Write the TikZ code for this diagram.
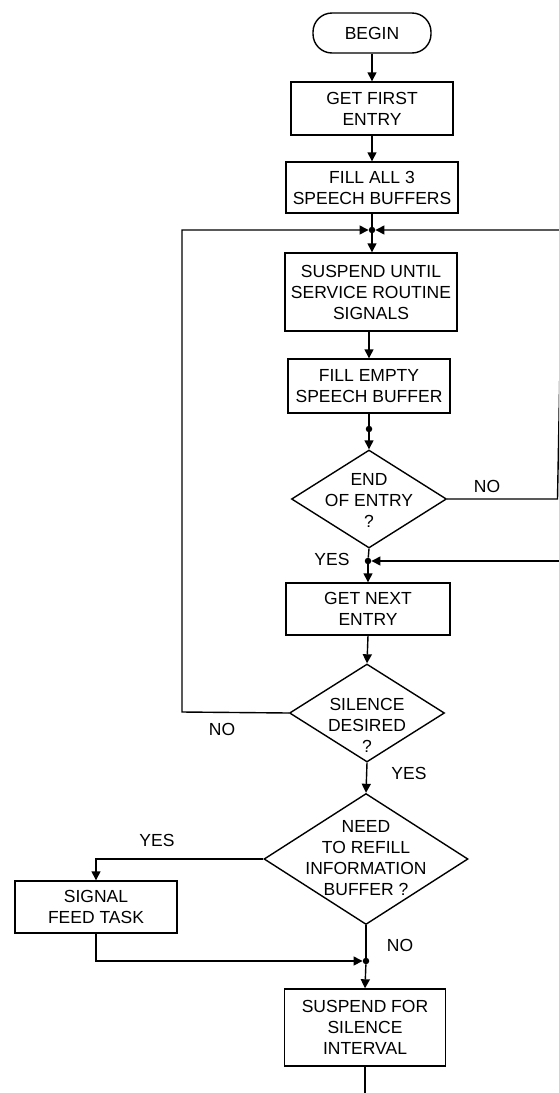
\documentclass[tikz,border=0pt]{standalone}
\usepackage{fontspec}
\setmainfont{Liberation Sans}
\usetikzlibrary{arrows.meta,shapes.geometric}
\begin{document}
\begin{tikzpicture}[x=1pt,y=-1pt,
  every node/.style={font=\fontsize{17.5}{21}\selectfont},
  box/.style={draw, line width=1.4pt, rectangle, align=center, inner sep=0pt},
  term/.style={draw, line width=1.4pt, rectangle, rounded corners=19pt, align=center, inner sep=0pt},
  dia/.style={draw, diamond, line width=1.4pt, inner sep=0pt},
  dtext/.style={align=center, inner sep=0pt},
  flow/.style={line width=1.4pt, -{Triangle[length=9pt,width=9pt]}},
  link/.style={line width=1.4pt},
  lbl/.style={inner sep=0pt},
  dot/.style={circle, fill, inner sep=0pt, minimum size=6.5pt}]
\fill[white] (0,0) rectangle (559,1093);
\path[use as bounding box] (0,0) rectangle (559,1093);
\clip (0,0) rectangle (559,1093);

% nodes
\node[term, minimum width=118pt, minimum height=40pt] (begin) at (372,33) {BEGIN};
\node[box, minimum width=162pt, minimum height=53pt] (first) at (372,108.5) {GET FIRST\\ENTRY};
\node[box, minimum width=172pt, minimum height=51pt] (fillall) at (372,187.5) {FILL ALL 3\\SPEECH BUFFERS};
\node[dot] (j1) at (372,230) {};
\node[box, minimum width=172pt, minimum height=78pt] (susp) at (371,292) {SUSPEND UNTIL\\SERVICE ROUTINE\\SIGNALS};
\node[box, minimum width=162pt, minimum height=54pt] (fillempty) at (369,386) {FILL EMPTY\\SPEECH BUFFER};
\node[dot] (d2) at (369,429) {};
\node[dia, minimum width=155pt, minimum height=98pt] (endq) at (369,499) {};
\node[dtext] (endqt) at (369,500) {END\\OF ENTRY\\?};
\node[dot] (j2) at (368,561) {};
\node[box, minimum width=164pt, minimum height=52pt] (next) at (368,609) {GET NEXT\\ENTRY};
\node[dia, minimum width=155pt, minimum height=98pt] (sil) at (367,713) {};
\node[dtext] (silt) at (367,725) {SILENCE\\DESIRED\\?};
\node[dia, minimum width=204pt, minimum height=131pt] (need) at (366,859) {};
\node[dtext] (needt) at (366,858) {NEED\\TO REFILL\\INFORMATION\\BUFFER ?};
\node[box, minimum width=162pt, minimum height=52pt] (signal) at (96,907) {SIGNAL\\FEED TASK};
\node[dot] (j3) at (366,961) {};
\node[box, minimum width=161pt, minimum height=77pt] (suspfor) at (365,1027.5) {SUSPEND FOR\\SILENCE\\INTERVAL};

% free ends
\coordinate (lt) at (182,230);
\coordinate (lb) at (182,712);
\coordinate (rt) at (562.5,230);
\coordinate (rb) at (557.5,499);
\coordinate (r2) at (562,561);
\coordinate (out) at (365,1096);

% connectors
\draw[flow] (begin.south) -- (first.north);
\draw[flow] (first.south) -- (fillall.north);
\draw[link] (fillall.south) -- (j1);
\draw[flow] (j1) -- (j1 |- susp.north);
\draw[flow] (susp.south -| fillempty) -- (fillempty.north);
\draw[link] (fillempty.south) -- (d2);
\draw[flow] (d2) -- (endq.north);
\draw[flow] (endq.east) -- (rb) -- (rt) -- (j1);
\draw[flow] (sil.west) -- (lb) -- (lt) -- (j1);
\draw[link] (endq.south) -- (j2);
\draw[flow] (r2) -- (j2);
\draw[flow] (j2) -- (next.north);
\draw[flow] (next.south) -- (sil.north);
\draw[flow] (sil.south) -- (need.north);
\draw[flow] (need.west) -| (signal.north);
\draw[flow] (signal.south) |- (j3);
\draw[link] (need.south) -- (j3);
\draw[flow] (j3) -- (suspfor.north);
\draw[link] (suspfor.south) -- (out);

% labels
\node[lbl] (no1) at (487,486) {NO};
\node[lbl] (yes1) at (332,559) {YES};
\node[lbl] (no2) at (222,729) {NO};
\node[lbl] (yes2) at (409,773) {YES};
\node[lbl] (yes3) at (157,840) {YES};
\node[lbl] (no3) at (400,945) {NO};
\end{tikzpicture}
\end{document}
